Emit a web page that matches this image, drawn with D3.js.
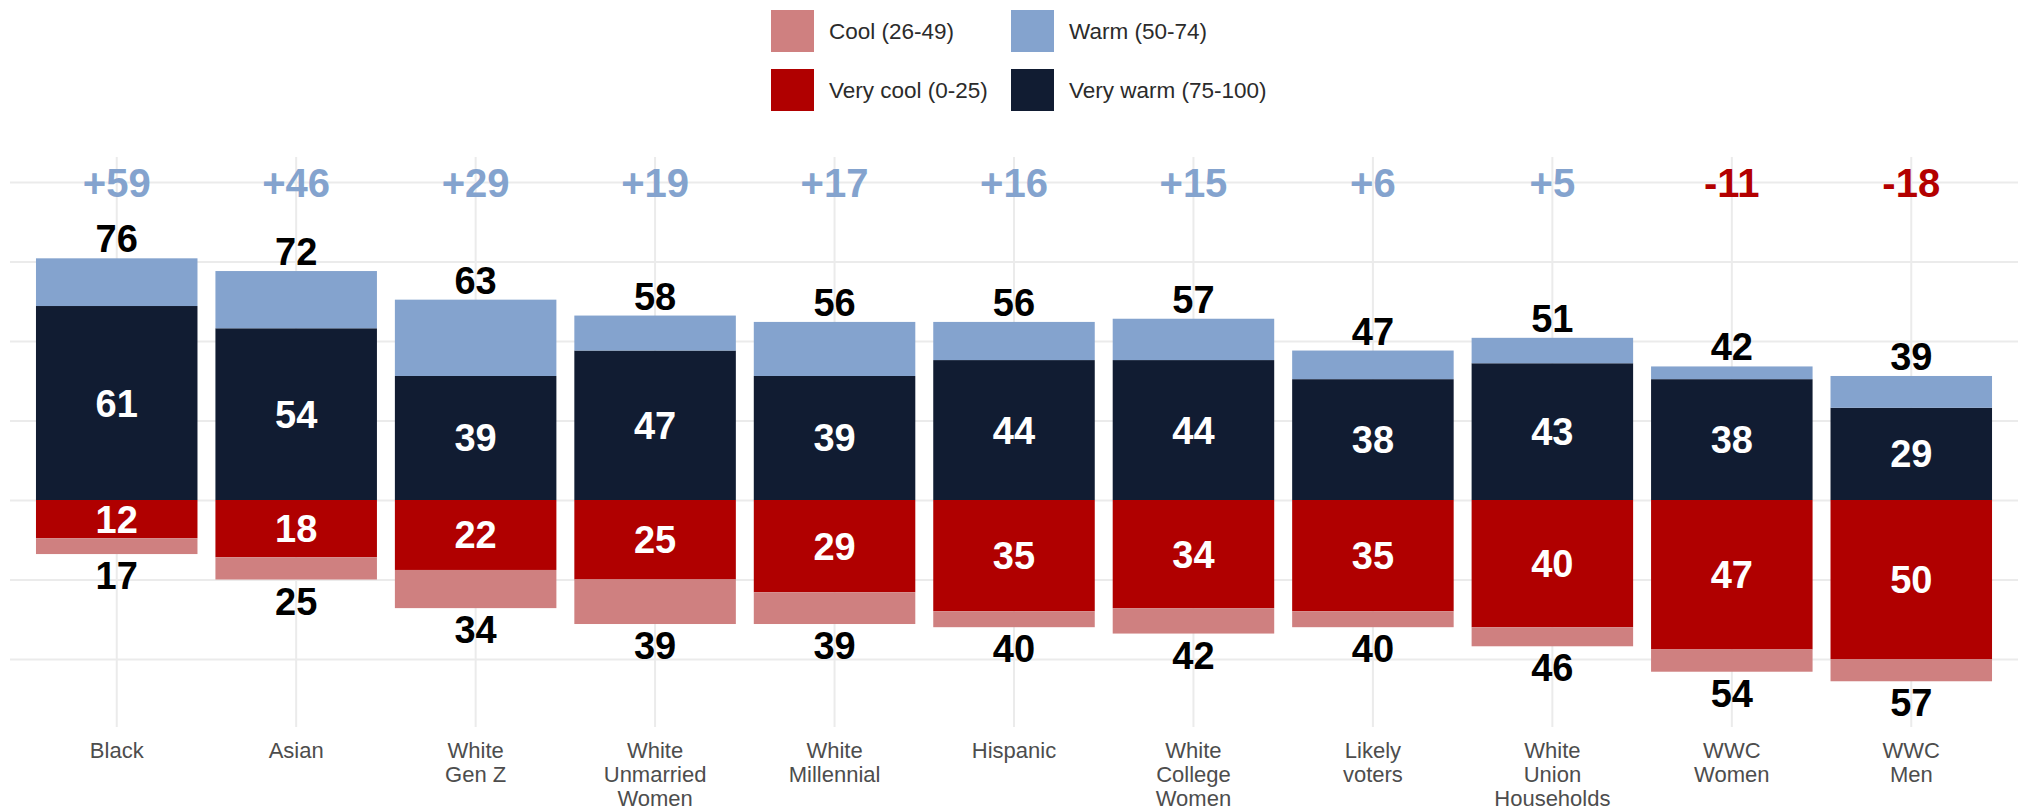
<!DOCTYPE html>
<html>
<head>
<meta charset="utf-8">
<script src="https://cdn.jsdelivr.net/npm/d3@7"></script>
<style>
  html, body { margin: 0; padding: 0; background: #fff; }
  svg { display: block; font-family: "Liberation Sans", Arial, Helvetica, sans-serif; }
</style>
</head>
<body>
<svg id="chart" width="2018" height="810"></svg>
<script>
const categories = ["Black", "Asian", "White\nGen Z", "White\nUnmarried\nWomen", "White\nMillennial", "Hispanic", "White\nCollege\nWomen", "Likely\nvoters", "White\nUnion\nHouseholds", "WWC\nWomen", "WWC\nMen"];
const veryWarm = [61, 54, 39, 47, 39, 44, 44, 38, 43, 38, 29];
const warmTotal = [76, 72, 63, 58, 56, 56, 57, 47, 51, 42, 39];
const veryCool = [12, 18, 22, 25, 29, 35, 34, 35, 40, 47, 50];
const coolTotal = [17, 25, 34, 39, 39, 40, 42, 40, 46, 54, 57];
const netLabels = ["+59", "+46", "+29", "+19", "+17", "+16", "+15", "+6", "+5", "-11", "-18"];
const yTicks = [-50, -25, 0, 25, 50, 75, 100];

const legendItems = [
  {key: "cool", label: "Cool (26-49)"},
  {key: "warm", label: "Warm (50-74)"},
  {key: "veryCool", label: "Very cool (0-25)"},
  {key: "veryWarm", label: "Very warm (75-100)"}
];
const colors = {veryWarm: "#111c32", warm: "#84a3ce", veryCool: "#b00000", cool: "#cf8080"};
const posColor = "#84a3ce", negColor = "#b30000";

const svg = d3.select("#chart");
const x = d3.scaleBand().domain(categories).range([27, 2001]).paddingInner(0.1).paddingOuter(0.05);
const y = d3.scaleLinear().domain([-75, 100]).range([738.5, 182]);

// Horizontal gridlines
const gy = svg.append("g").attr("transform", "translate(10,0)")
  .call(d3.axisLeft(y).tickValues(yTicks).tickSize(-2010).tickFormat(""));
gy.select(".domain").remove();
gy.selectAll("line").attr("stroke", "#ebebeb").attr("stroke-width", 2);

// Vertical gridlines
const gx = svg.append("g").attr("transform", "translate(0,727)")
  .call(d3.axisBottom(x).tickSize(-570).tickSizeOuter(0).tickFormat(""));
gx.select(".domain").remove();
gx.selectAll("line").attr("stroke", "#ebebeb").attr("stroke-width", 2);

// Tick labels (multi-line)
const gl = svg.append("g").attr("transform", "translate(0,727)")
  .call(d3.axisBottom(x).tickSize(0).tickPadding(31));
gl.select(".domain").remove();
gl.selectAll("text").each(function(d) {
  const t = d3.select(this);
  t.text(null).attr("fill", "#4d4d4d").attr("font-size", 22).attr("dy", null).attr("y", 31);
  d.split("\n").forEach((line, i) => {
    t.append("tspan").attr("x", 0).attr("y", 31 + i * 24).text(line);
  });
});

const idx = d3.range(categories.length);
const bw = x.bandwidth();
const cx = i => x(categories[i]) + bw / 2;

const segs = [];
idx.forEach(i => {
  segs.push({i, y0: 0, y1: veryWarm[i], c: colors.veryWarm});
  segs.push({i, y0: veryWarm[i], y1: warmTotal[i], c: colors.warm});
  segs.push({i, y0: -veryCool[i], y1: 0, c: colors.veryCool});
  segs.push({i, y0: -coolTotal[i], y1: -veryCool[i], c: colors.cool});
});
svg.append("g").selectAll("rect").data(segs).join("rect")
  .attr("x", d => x(categories[d.i]))
  .attr("width", bw)
  .attr("y", d => y(d.y1))
  .attr("height", d => y(d.y0) - y(d.y1))
  .attr("fill", d => d.c);

const lab = svg.append("g").attr("font-weight", "bold").attr("text-anchor", "middle");
// totals above
lab.selectAll(".top").data(idx).join("text")
  .attr("x", cx).attr("y", i => y(warmTotal[i]) - 6)
  .attr("font-size", 38).attr("fill", "#000").text(i => warmTotal[i]);
// totals below
lab.selectAll(".bot").data(idx).join("text")
  .attr("x", cx).attr("y", i => y(-coolTotal[i]) + 35)
  .attr("font-size", 38).attr("fill", "#000").text(i => coolTotal[i]);
// inside very warm
lab.selectAll(".vw").data(idx).join("text")
  .attr("x", cx).attr("y", i => (y(0) + y(veryWarm[i])) / 2 + 13.5)
  .attr("font-size", 38).attr("fill", "#fff").text(i => veryWarm[i]);
// inside very cool
lab.selectAll(".vc").data(idx).join("text")
  .attr("x", cx).attr("y", i => (y(0) + y(-veryCool[i])) / 2 + 13.5)
  .attr("font-size", 38).attr("fill", "#fff").text(i => veryCool[i]);
// net
lab.selectAll(".net").data(idx).join("text")
  .attr("x", cx).attr("y", y(100) + 15)
  .attr("font-size", 40)
  .attr("fill", i => netLabels[i].startsWith("-") ? negColor : posColor)
  .text(i => netLabels[i]);

// Legend
const lg = svg.append("g");
const colX = [771, 1011], rowY = [10, 69];
legendItems.forEach((it, k) => {
  const gx0 = colX[k % 2], gy0 = rowY[Math.floor(k / 2)];
  lg.append("rect").attr("x", gx0).attr("y", gy0).attr("width", 43).attr("height", 42).attr("fill", colors[it.key]);
  lg.append("text").attr("x", gx0 + 58).attr("y", gy0 + 21).attr("dy", "0.35em")
    .attr("font-size", 22.5).attr("fill", "#2b2b2b").text(it.label);
});
</script>
</body>
</html>
